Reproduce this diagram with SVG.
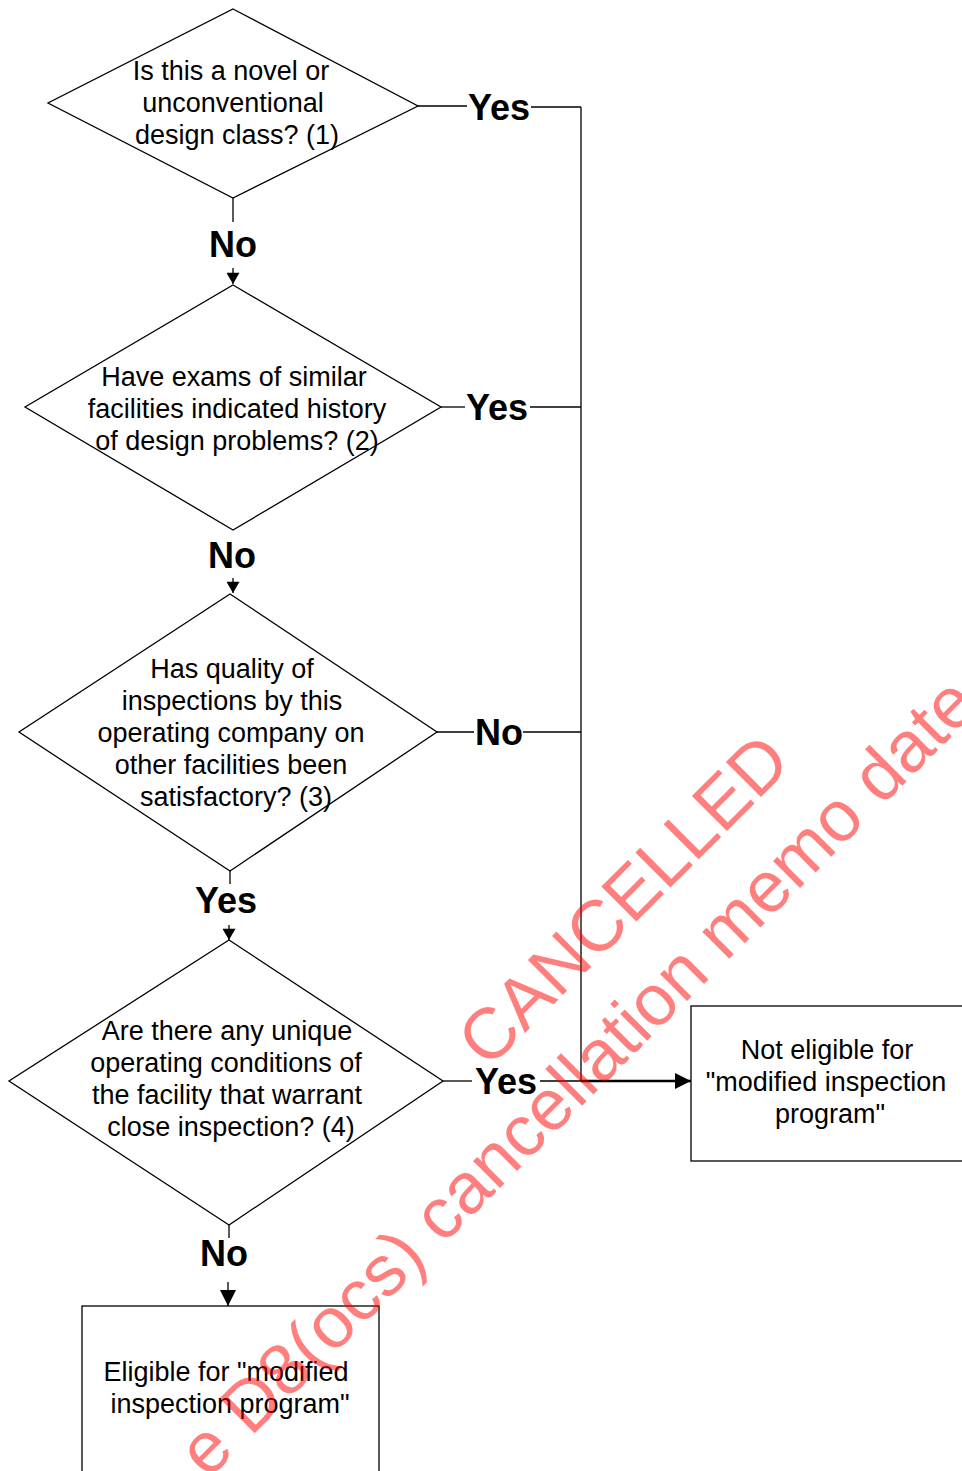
<svg xmlns="http://www.w3.org/2000/svg" width="962" height="1471" viewBox="0 0 962 1471">
<style>
.shape{fill:#fff;stroke:#000;stroke-width:1.3}
.t{font-family:"Liberation Sans",Arial,sans-serif;font-size:27px;fill:#000;text-anchor:middle}
.lbl{font-family:"Liberation Sans",Arial,sans-serif;font-size:36px;font-weight:bold;fill:#000;text-anchor:middle}
.ln{stroke:#000;stroke-width:1.3;fill:none}
.wm{font-family:"Liberation Sans",Arial,sans-serif;font-size:72px;fill:#ff0000;fill-opacity:0.5}
</style>
<defs>
<marker id="arr" viewBox="0 0 12 14" refX="12" refY="7" markerWidth="14" markerHeight="13" orient="auto" markerUnits="userSpaceOnUse">
<path d="M0,0 L12,7 L0,14 z" fill="#000"/>
</marker>
<marker id="arrL" viewBox="0 0 16 16" refX="16" refY="8" markerWidth="17" markerHeight="16" orient="auto" markerUnits="userSpaceOnUse">
<path d="M0,0 L16,8 L0,16 z" fill="#000"/>
</marker>
</defs>
<rect width="962" height="1471" fill="#fff"/>

<g id="connectors">
<line class="ln" x1="418" y1="106" x2="467" y2="106"/>
<line class="ln" x1="531" y1="107" x2="581" y2="107"/>
<line class="ln" x1="581" y1="107" x2="581" y2="1081"/>
<line class="ln" x1="441" y1="407" x2="465" y2="407"/>
<line class="ln" x1="530" y1="407" x2="581" y2="407"/>
<line class="ln" x1="437" y1="732" x2="474" y2="732"/>
<line class="ln" x1="523" y1="732" x2="581" y2="732"/>
<line class="ln" x1="443" y1="1081" x2="472" y2="1081"/>
<line class="ln" x1="540" y1="1081" x2="581" y2="1081"/>
<line x1="581" y1="1081" x2="691" y2="1081" stroke="#000" stroke-width="2.5" marker-end="url(#arrL)"/>
<line class="ln" x1="233" y1="198" x2="233" y2="222"/>
<line class="ln" x1="233" y1="268" x2="233" y2="284" marker-end="url(#arr)"/>
<line class="ln" x1="233" y1="578" x2="233" y2="593" marker-end="url(#arr)"/>
<line class="ln" x1="230" y1="871" x2="230" y2="884"/>
<line class="ln" x1="229" y1="925" x2="229" y2="940" marker-end="url(#arr)"/>
<line class="ln" x1="229" y1="1225" x2="229" y2="1238"/>
<line class="ln" x1="228" y1="1282" x2="228" y2="1306" marker-end="url(#arrL)"/>
<text class="lbl" x="499" y="120">Yes</text>
<text class="lbl" x="233" y="257">No</text>
<text class="lbl" x="497" y="420">Yes</text>
<text class="lbl" x="232" y="568">No</text>
<text class="lbl" x="499" y="745">No</text>
<text class="lbl" x="226" y="913">Yes</text>
<text class="lbl" x="506" y="1094">Yes</text>
<text class="lbl" x="224" y="1266">No</text>
</g>

<g id="q1">
<polygon class="shape" points="233,9 418,106 233,198 48,103"/>
<text class="t" x="231" y="80">Is this a novel or</text>
<text class="t" x="233" y="112">unconventional</text>
<text class="t" x="237" y="144">design class? (1)</text>
</g>

<g id="q2">
<polygon class="shape" points="233,285 441,407 233,530 25,407"/>
<text class="t" x="234" y="386">Have exams of similar</text>
<text class="t" x="237" y="418">facilities indicated history</text>
<text class="t" x="237" y="450">of design problems? (2)</text>
</g>

<g id="q3">
<polygon class="shape" points="230,594 437,732 230,871 19,732"/>
<text class="t" x="232" y="678">Has quality of</text>
<text class="t" x="232" y="710">inspections by this</text>
<text class="t" x="231" y="742">operating company on</text>
<text class="t" x="231" y="774">other facilities been</text>
<text class="t" x="236" y="806">satisfactory? (3)</text>
</g>

<g id="q4">
<polygon class="shape" points="229,940 443,1081 229,1225 9,1081"/>
<text class="t" x="227" y="1040">Are there any unique</text>
<text class="t" x="226" y="1072">operating conditions of</text>
<text class="t" x="227" y="1104">the facility that warrant</text>
<text class="t" x="231" y="1136">close inspection? (4)</text>
</g>

<g id="not-eligible">
<rect class="shape" x="691" y="1006" width="290" height="155"/>
<text class="t" x="827" y="1059">Not eligible for</text>
<text class="t" x="826" y="1091">"modified inspection</text>
<text class="t" x="830" y="1123">program"</text>
</g>

<g id="eligible">
<rect class="shape" x="82" y="1306" width="297" height="190"/>
<text class="t" x="226" y="1381">Eligible for "modified</text>
<text class="t" x="230" y="1413">inspection program"</text>
</g>

<g id="watermark">
<text class="wm" transform="translate(488,1070) rotate(-45)">CANCELLED</text>
<text class="wm" transform="translate(208,1480) rotate(-45)">e D8(ocs) cancellation memo date</text>
</g>
</svg>
